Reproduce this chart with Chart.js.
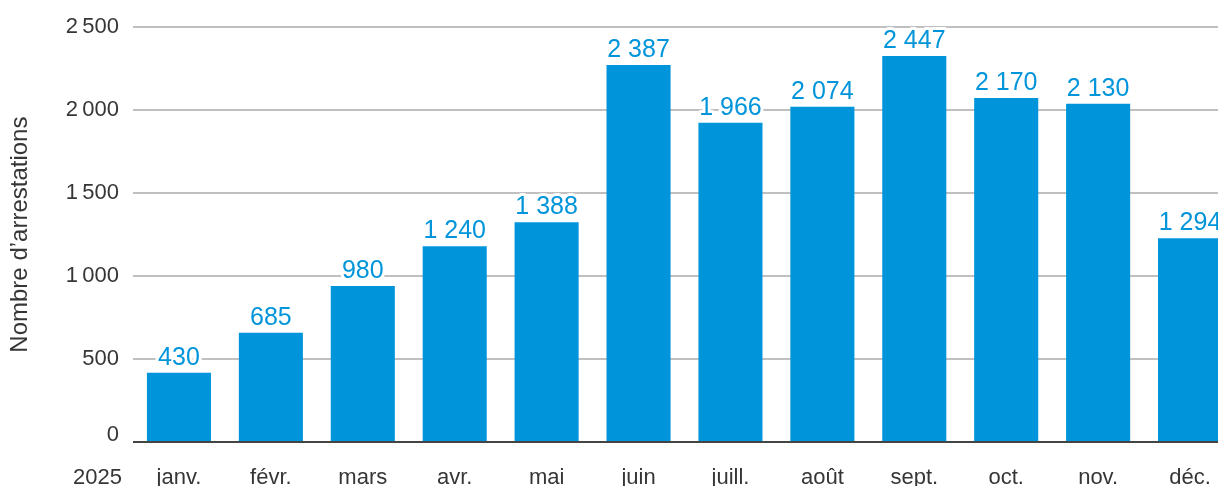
<!DOCTYPE html>
<html lang="fr">
<head>
<meta charset="utf-8">
<title>Nombre d’arrestations 2025</title>
<script src="https://cdn.jsdelivr.net/npm/chart.js@4"></script>
<style>
  html, body { margin: 0; padding: 0; background: #fff; overflow: hidden; }
  #wrap { width: 1236px; height: 486px; }
</style>
</head>
<body>
<div id="wrap"><canvas id="arrChart" width="1236" height="486"></canvas></div>
<script>
/* ── données ── */
const months     = ['janv.', 'févr.', 'mars', 'avr.', 'mai', 'juin', 'juill.', 'août', 'sept.', 'oct.', 'nov.', 'déc.'];
const barHeights = [418, 658, 940, 1180, 1324, 2272, 1924, 2020, 2326, 2074, 2038, 1228];
const valueLbls  = [430, 685, 980, 1240, 1388, 2387, 1966, 2074, 2447, 2170, 2130, 1294];
const yTicks     = [0, 500, 1000, 1500, 2000, 2500];
const yearLabel  = '2025';
const yTitle     = 'Nombre d’arrestations';

const FONT  = '"Liberation Sans", Arial, sans-serif';
const BLUE  = '#0095da';
const INK   = '#363636';

const fmt     = (n, sep = ' ') => String(n).replace(/\B(?=(\d{3})+(?!\d))/g, sep);
const fmtTick = n => fmt(n, '\u2009');

/* étiquettes de valeur avec contour blanc */
const valueLabels = {
  id: 'valueLabels',
  afterDatasetsDraw(chart) {
    const { ctx } = chart;
    const meta = chart.getDatasetMeta(0);
    ctx.save();
    ctx.font = `25px ${FONT}`;
    ctx.textAlign = 'center';
    ctx.textBaseline = 'alphabetic';
    ctx.lineJoin = 'round';
    meta.data.forEach((bar, i) => {
      const txt = fmt(valueLbls[i]);
      const y = bar.y - 8;
      ctx.strokeStyle = '#fff';
      ctx.lineWidth = 6;
      ctx.strokeText(txt, bar.x, y);
      ctx.fillStyle = BLUE;
      ctx.fillText(txt, bar.x, y);
    });
    ctx.restore();
  },
};

/* « 2025 » à gauche des mois, et le « 0 » un peu relevé */
const extraText = {
  id: 'extraText',
  afterDraw(chart) {
    const { ctx, chartArea, scales } = chart;
    ctx.save();
    ctx.font = `22px ${FONT}`;
    ctx.fillStyle = INK;
    ctx.textAlign = 'right';
    ctx.textBaseline = 'alphabetic';
    ctx.fillText(yearLabel, chartArea.left - 11, 484);
    ctx.fillText(fmtTick(yTicks[0]), chartArea.left - 14, scales.y.getPixelForValue(yTicks[0]) - 1);
    ctx.restore();
  },
};

new Chart(document.getElementById('arrChart'), {
  type: 'bar',
  data: {
    labels: months,
    datasets: [{
      data           : barHeights,
      backgroundColor: BLUE,
      barPercentage  : 0.697,
      categoryPercentage: 1,
    }],
  },
  options: {
    responsive: false,
    animation : false,
    layout    : { padding: { top: 26, right: 0, left: 0, bottom: 0 } },
    plugins   : { legend: { display: false }, tooltip: { enabled: false } },
    scales: {
      x: {
        grid  : { display: false, drawTicks: false },
        border: { display: false },
        ticks : { color: INK, font: { family: FONT, size: 22 }, padding: 23, maxRotation: 0, autoSkip: false },
        afterFit: s => { s.height = 44; },
      },
      y: {
        min: 0,
        max: 2500,
        afterBuildTicks: s => { s.ticks = yTicks.map(v => ({ value: v })); },
        grid: {
          drawTicks: false,
          lineWidth: 2,
          color: c => (c.tick && c.tick.value === 0 ? '#444' : '#c0c0c0'),
        },
        border: { display: false },
        ticks : { color: INK, font: { family: FONT, size: 22 }, padding: 14, callback: v => (v === 0 ? '' : fmtTick(v)) },
        title : {
          display: true,
          text   : yTitle,
          color  : INK,
          font   : { family: FONT, size: 24 },
          padding: { top: 6, bottom: 0 },
        },
        afterFit: s => { s.width = 133; },
      },
    },
  },
  plugins: [valueLabels, extraText],
});
</script>
</body>
</html>
